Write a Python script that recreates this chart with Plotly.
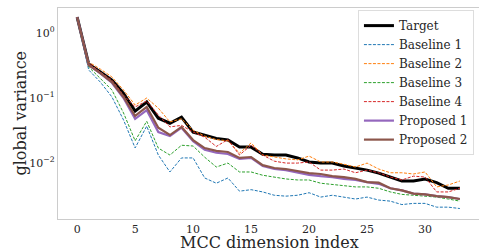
import plotly.graph_objects as go

dims = list(range(34))

target = [1.76, 0.334, 0.251, 0.188, 0.118, 0.063, 0.087, 0.049, 0.041, 0.051,
          0.030, 0.027, 0.024, 0.0226, 0.0176, 0.0176, 0.0137, 0.0133, 0.0133, 0.0120,
          0.0104, 0.0100, 0.0100, 0.0090, 0.0084, 0.0078, 0.0070, 0.0061, 0.0053, 0.0053,
          0.0057, 0.0050, 0.0041, 0.0041]

baseline1 = [1.72, 0.27, 0.176, 0.104, 0.046, 0.0171, 0.037, 0.0133, 0.0073, 0.0120,
             0.0120, 0.0059, 0.0049, 0.0059, 0.0037, 0.0039, 0.0036, 0.0032, 0.0031, 0.0032,
             0.0035, 0.0030, 0.0032, 0.0030, 0.0028, 0.0030, 0.0027, 0.0026, 0.0023, 0.0024,
             0.0024, 0.0021, 0.0021, 0.0020]

baseline2 = [1.76, 0.358, 0.279, 0.211, 0.133, 0.078, 0.100, 0.070, 0.043, 0.048,
             0.032, 0.026, 0.023, 0.022, 0.0142, 0.0204, 0.0133, 0.0123, 0.0116, 0.0112,
             0.0128, 0.0104, 0.0104, 0.0096, 0.0087, 0.0100, 0.0081, 0.0071, 0.0071, 0.0068,
             0.0073, 0.0043, 0.0046, 0.0053]

baseline3 = [1.74, 0.30, 0.20, 0.133, 0.059, 0.022, 0.044, 0.017, 0.0133, 0.0188,
             0.0183, 0.0123, 0.0087, 0.0100, 0.0073, 0.0073, 0.0065, 0.0061, 0.0057, 0.0055,
             0.0055, 0.0049, 0.0047, 0.0046, 0.0043, 0.0043, 0.0041, 0.0036, 0.0033, 0.0032,
             0.0031, 0.0030, 0.0028, 0.0026]

baseline4 = [1.76, 0.346, 0.251, 0.189, 0.111, 0.073, 0.090, 0.055, 0.036, 0.038,
             0.030, 0.025, 0.018, 0.023, 0.0133, 0.0189, 0.0133, 0.0107, 0.0100, 0.0100,
             0.0104, 0.0078, 0.0078, 0.0081, 0.0071, 0.0078, 0.0071, 0.0061, 0.0055, 0.0063,
             0.0061, 0.0036, 0.0036, 0.0041]

proposed1 = [1.76, 0.322, 0.240, 0.172, 0.100, 0.048, 0.065, 0.030, 0.026, 0.035,
             0.0218, 0.0160, 0.0144, 0.0138, 0.0116, 0.0120, 0.0090, 0.0081, 0.0078, 0.0072,
             0.0066, 0.0063, 0.0061, 0.0057, 0.0055, 0.0051, 0.0048, 0.0041, 0.0038, 0.0034,
             0.0033, 0.0031, 0.0030, 0.0028]

proposed2 = [1.76, 0.322, 0.242, 0.176, 0.104, 0.053, 0.073, 0.035, 0.027, 0.036,
             0.0226, 0.0170, 0.0154, 0.0148, 0.0120, 0.0124, 0.0093, 0.0084, 0.0081, 0.0075,
             0.0070, 0.0068, 0.0063, 0.0061, 0.0057, 0.0051, 0.0050, 0.0041, 0.0038, 0.0034,
             0.0033, 0.0031, 0.0030, 0.0028]

x_ticks = [0, 5, 10, 15, 20, 25, 30]
y_ticks = [1, 0.1, 0.01]
y_tick_labels = ["10<sup>0</sup>", "10<sup>−1</sup>", "10<sup>−2</sup>"]

series = [
    ("Target", target, "black", 3, "solid"),
    ("Baseline 1", baseline1, "#1f77b4", 1, "3px,1.5px"),
    ("Baseline 2", baseline2, "#ff7f0e", 1, "3px,1.5px"),
    ("Baseline 3", baseline3, "#2ca02c", 1, "3px,1.5px"),
    ("Baseline 4", baseline4, "#d62728", 1, "3px,1.5px"),
    ("Proposed 1", proposed1, "#9467bd", 2.2, "solid"),
    ("Proposed 2", proposed2, "#8c564b", 2.2, "solid"),
]

fig = go.Figure()
for name, vals, color, width, dash in series:
    fig.add_trace(go.Scatter(x=dims, y=vals, mode="lines", name=name,
                             line=dict(color=color, width=width, dash=dash)))

font_family = "DejaVu Serif"
fig.update_layout(
    width=479, height=251,
    margin=dict(l=58, r=0, t=8, b=32, autoexpand=False),
    paper_bgcolor="white", plot_bgcolor="white",
    font=dict(family=font_family, size=11, color="#262626"),
    showlegend=True,
    legend=dict(x=0.988, y=0.99, xanchor="right", yanchor="top",
                bgcolor="rgba(255,255,255,0.85)", bordercolor="#dddddd", borderwidth=1,
                font=dict(family=font_family, size=12, color="#262626"),
                tracegroupgap=0, itemwidth=30),
    xaxis=dict(range=[-1.65, 34.65], tickvals=x_ticks, showgrid=False, zeroline=False,
               showline=True, linecolor="#cccccc", linewidth=1.2, mirror=True,
               ticks="", automargin=False),
    yaxis=dict(type="log", range=[-2.86, 0.385], tickvals=y_ticks, ticktext=y_tick_labels,
               showgrid=False, zeroline=False, showline=True, linecolor="#cccccc",
               linewidth=1.2, ticks="", automargin=False),
    annotations=[
        dict(text="MCC dimension index", xref="paper", yref="paper", x=0.502, y=0,
             xanchor="center", yanchor="middle", yshift=-23, showarrow=False,
             font=dict(size=16, family=font_family, color="#262626")),
        dict(text="global variance", xref="paper", yref="paper", x=0, y=0.5,
             xanchor="center", yanchor="middle", xshift=-38, textangle=-90,
             showarrow=False, font=dict(size=16, family=font_family, color="#262626")),
    ],
)

fig.write_html("out.html", config={"displayModeBar": False},
               post_script="document.body.style.margin='0';document.body.style.overflow='hidden';")
